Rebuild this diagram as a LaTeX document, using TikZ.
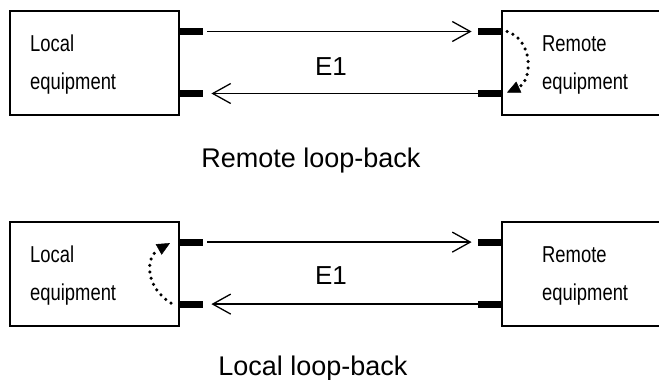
\documentclass[tikz,border=0pt]{standalone}
\usepackage{fontspec}
\setmainfont{Liberation Sans}
\newfontfamily\narrowfont[FakeStretch=0.8]{Liberation Sans}
\usetikzlibrary{arrows.meta, positioning}

\begin{document}
\begin{tikzpicture}[
  x=1pt, y=-1pt,
  box/.style={draw, line width=2pt, minimum width=169pt, minimum height=104pt, inner sep=0pt},
  tag/.style={font=\narrowfont\fontsize{23}{38}\selectfont, align=left, inner sep=0pt},
  stub/.style={fill, minimum width=23pt, minimum height=7pt, inner sep=0pt},
  link/.style={line width=1.3pt, -{Straight Barb[length=18pt, width=20pt]}},
  backloop/.style={line width=3.5pt, line cap=round, dash pattern=on 0pt off 6.5pt,
    -{Triangle[length=13pt, width=12pt, line width=0.5pt]}},
  captext/.style={font=\fontsize{27}{30}\selectfont, inner sep=0pt},
  ename/.style={font=\fontsize{26}{30}\selectfont, inner sep=0pt}
]

\useasboundingbox (0,0) rectangle (659,380);
\clip (0,0) rectangle (659,380);

% =========================
% Remote loop-back
% =========================
\node[box] (local1) at (94.5,63) {};
\node[tag, anchor=west] (localtxt1) at ([xshift=21pt, yshift=-2pt]local1.west) {Local\\equipment};
\node[stub, anchor=west] (ltx1) at ([yshift=31.5pt]local1.east) {};
\node[stub, anchor=west] (lrx1) at ([yshift=-30.5pt]local1.east) {};

\node[box, right=321pt of local1] (remote1) {};
\node[tag, anchor=west] (remotetxt1) at ([xshift=41pt, yshift=-2pt]remote1.west) {Remote\\equipment};
\node[stub, anchor=east] (rrx1) at ([yshift=31.5pt]remote1.west) {};
\node[stub, anchor=east] (rtx1) at ([yshift=-30.5pt]remote1.west) {};

\draw[link, shorten <=4pt, shorten >=6pt] (ltx1) -- (rrx1);
\draw[link, shorten >=8pt] (rtx1) -- (lrx1);
\node[ename, anchor=base] (e1top) at (331,75) {E1};

% loop at the far end
\draw[backloop] ([xshift=6pt]rrx1.east)
  .. controls ([xshift=32pt, yshift=-8pt]rrx1.east) and ([xshift=32pt, yshift=13pt]rtx1.east)
  .. ([xshift=6pt, yshift=1pt]rtx1.east);

\node[captext, anchor=base] (remotecap) at (311,167) {Remote loop-back};

% =========================
% Local loop-back
% =========================
\node[box, below=104.6pt of local1] (local2) {};
\node[tag, anchor=west] (localtxt2) at ([xshift=21pt, yshift=-2pt]local2.west) {Local\\equipment};
\node[stub, anchor=west] (ltx2) at ([yshift=31.5pt]local2.east) {};
\node[stub, anchor=west] (lrx2) at ([yshift=-30.5pt]local2.east) {};

\node[box, right=321pt of local2] (remote2) {};
\node[tag, anchor=west] (remotetxt2) at ([xshift=41pt, yshift=-2pt]remote2.west) {Remote\\equipment};
\node[stub, anchor=east] (rrx2) at ([yshift=31.5pt]remote2.west) {};
\node[stub, anchor=east] (rtx2) at ([yshift=-30.5pt]remote2.west) {};

\draw[link, shorten <=4pt, shorten >=6pt] (ltx2) -- (rrx2);
\draw[link, shorten >=8pt] (rtx2) -- (lrx2);
\node[ename, anchor=base] (e1bot) at (331,284) {E1};

% loop at the near end
\draw[backloop] ([xshift=-9pt, yshift=1pt]lrx2.west)
  .. controls ([xshift=-35pt, yshift=17pt]lrx2.west) and ([xshift=-35pt, yshift=-15pt]ltx2.west)
  .. ([xshift=-10pt, yshift=-1pt]ltx2.west);

\node[captext, anchor=base] (localcap) at (313,375) {Local loop-back};

\end{tikzpicture}
\end{document}
